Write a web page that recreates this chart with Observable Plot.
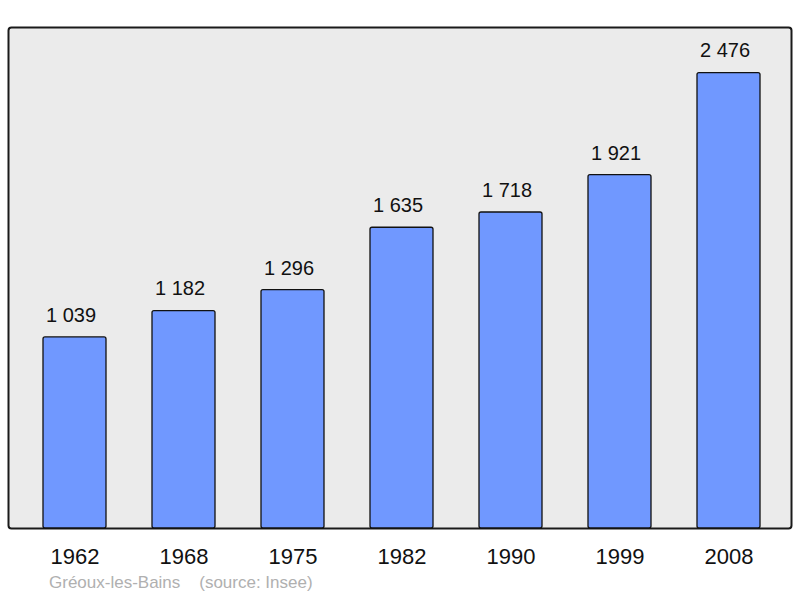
<!DOCTYPE html>
<html><head><meta charset="utf-8">
<script src="https://cdn.jsdelivr.net/npm/d3@7"></script>
<script src="https://cdn.jsdelivr.net/npm/@observablehq/plot@0.6"></script>
<style>
body{margin:0;background:#fff;font-family:"Liberation Sans",Arial,sans-serif;}
#cap{position:absolute;left:49px;top:573px;font-size:17px;color:#b0b0b0;white-space:pre;}
</style></head><body>
<div id="chart"></div>
<div id="cap">Gréoux-les-Bains    (source: Insee)</div>
<script>
const years = ["1962","1968","1975","1982","1990","1999","2008"];
const population = [1039,1182,1296,1635,1718,1921,2476];
const data = years.map((y,i)=>({year:y, pop:population[i]}));
const fmt = v => d3.format(",")(v).replace(/,/g," ");
const chart = Plot.plot({
  width:800, height:570,
  marginLeft:8, marginRight:9, marginTop:27, marginBottom:42,
  style:{fontFamily:"Liberation Sans, Arial, sans-serif", background:"#fff"},
  x:{domain:years, range:[18.6,784.0], paddingInner:0.424, paddingOuter:0.212, label:null},
  y:{domain:[0,2723.6], axis:null},
  marks:[
    Plot.frame({fill:"#ebebeb", stroke:"#1a1a1a", strokeWidth:2, rx:3}),
    Plot.barY(data,{x:"year", y:"pop", fill:"#7098ff", stroke:"#111", strokeWidth:1.3, rx:2}),
    Plot.text(data,{x:"year", y:"pop", text:d=>fmt(d.pop), dy:-22, dx:-4, fontSize:20, fill:"#111"}),
    Plot.axisX({tickSize:0, tickPadding:20, fontSize:22, label:null, fill:"#111"})
  ]
});
document.getElementById("chart").append(chart);
</script>
</body></html>
